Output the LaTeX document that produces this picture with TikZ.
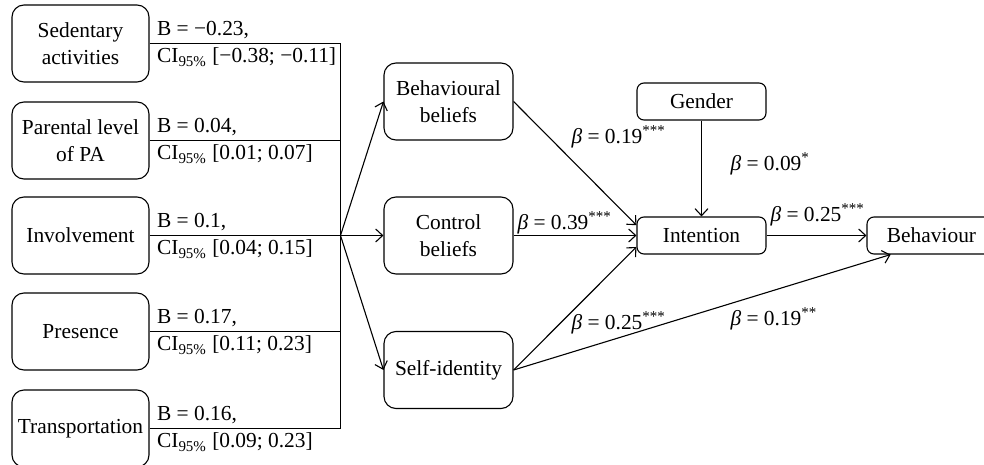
\documentclass[tikz,border=0pt]{standalone}
\usepackage{fontspec}
\setmainfont{Liberation Serif}
\usetikzlibrary{positioning, arrows.meta}

\begin{document}
\begin{tikzpicture}[x=0.5pt, y=-0.5pt, line width=0.55pt,
    font=\fontsize{10.7}{13.5}\selectfont,
    bigbox/.style={draw, rounded corners=6pt, minimum width=68.5pt, minimum height=38.5pt, align=center, inner sep=1pt},
    midbox/.style={bigbox, minimum width=64.5pt},
    smallbox/.style={draw, rounded corners=3.5pt, minimum width=64.5pt, minimum height=18.5pt, inner sep=1pt},
    link/.style={-{Straight Barb[length=3.5pt, width=6.5pt]}},
    coef/.style={inner sep=1pt}]
  \useasboundingbox (0,0) rectangle (984,465);

  % predictors
  \node[bigbox] (sed) at (80.5,43.5) {Sedentary\\activities};
  \node[bigbox] (par) at (80.5,140.5) {Parental level\\of PA};
  \node[bigbox] (inv) at (80.5,235.5) {Involvement};
  \node[bigbox] (pre) at (80.5,331.5) {Presence};
  \node[bigbox] (tra) at (80.5,428.5) {Transportation};
  \coordinate (hub) at (340.5,235.5);

  \foreach \n in {sed,par,inv,pre,tra}
    \draw (\n.east) -- (\n.east -| hub);
  \draw (sed.east -| hub) -- (tra.east -| hub);

  % B values
  \node[coef, anchor=south west] (sedB) at ([xshift=2.5pt,yshift=1pt]sed.east) {B = −0.23,};
  \node[coef, anchor=north west] (sedCI) at ([xshift=2.5pt,yshift=-1pt]sed.east) {CI\textsubscript{95\%} [−0.38; −0.11]};
  \node[coef, anchor=south west] (parB) at ([xshift=2.5pt,yshift=1pt]par.east) {B = 0.04,};
  \node[coef, anchor=north west] (parCI) at ([xshift=2.5pt,yshift=-1pt]par.east) {CI\textsubscript{95\%} [0.01; 0.07]};
  \node[coef, anchor=south west] (invB) at ([xshift=2.5pt,yshift=1pt]inv.east) {B = 0.1,};
  \node[coef, anchor=north west] (invCI) at ([xshift=2.5pt,yshift=-1pt]inv.east) {CI\textsubscript{95\%} [0.04; 0.15]};
  \node[coef, anchor=south west] (preB) at ([xshift=2.5pt,yshift=1pt]pre.east) {B = 0.17,};
  \node[coef, anchor=north west] (preCI) at ([xshift=2.5pt,yshift=-1pt]pre.east) {CI\textsubscript{95\%} [0.11; 0.23]};
  \node[coef, anchor=south west] (traB) at ([xshift=2.5pt,yshift=1pt]tra.east) {B = 0.16,};
  \node[coef, anchor=north west] (traCI) at ([xshift=2.5pt,yshift=-1pt]tra.east) {CI\textsubscript{95\%} [0.09; 0.23]};

  % beliefs
  \node[midbox] (behb) at (448.5,101.5) {Behavioural\\beliefs};
  \node[midbox] (ctrl) at (448.5,235.5) {Control\\beliefs};
  \node[midbox] (self) at (448.5,370) {Self-identity};

  \draw[link] (hub) -- (behb.west);
  \draw[link] (hub) -- (ctrl.west);
  \draw[link] (hub) -- (self.west);

  % intention and behaviour
  \node[smallbox] (gen) at (701.5,101.5) {Gender};
  \node[smallbox] (int) at (701.5,235.5) {Intention};
  \node[smallbox] (beh) at (931.5,235.5) {Behaviour};

  \draw[link] (behb.east) -- (int.171);
  \draw[link] (ctrl.east) -- (int.west);
  \draw[link] (self.east) -- (int.190);
  \draw[link] (self.east) -- (beh.205);
  \draw[link] (gen.south) -- (int.north);
  \draw[link] (int.east) -- (beh.west);

  \node[coef, anchor=west] (b1) at (569,137) {\textit{β} = 0.19\textsuperscript{***}};
  \node[coef, anchor=west] (b2) at (515,223) {\textit{β} = 0.39\textsuperscript{***}};
  \node[coef, anchor=west] (b3) at (569,323) {\textit{β} = 0.25\textsuperscript{***}};
  \node[coef, anchor=west] (b4) at (728,164) {\textit{β} = 0.09\textsuperscript{*}};
  \node[coef, anchor=west] (b5) at (768,215) {\textit{β} = 0.25\textsuperscript{***}};
  \node[coef, anchor=west] (b6) at (728,319) {\textit{β} = 0.19\textsuperscript{**}};
\end{tikzpicture}
\end{document}
